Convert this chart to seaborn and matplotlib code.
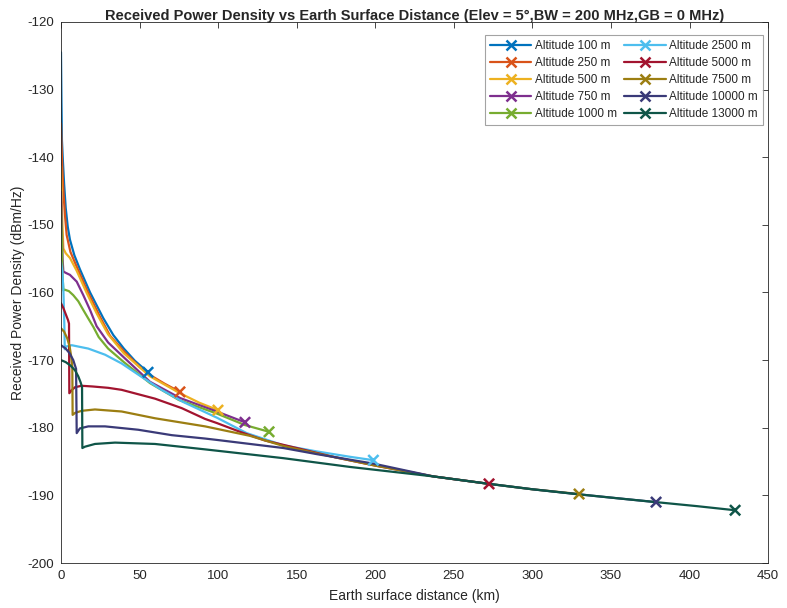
import pandas as pd
import seaborn as sns
import matplotlib.pyplot as plt
from matplotlib.lines import Line2D

# altitudes and line colours (MATLAB-like)
altitudes = [100, 250, 500, 750, 1000, 2500, 5000, 7500, 10000, 13000]
colors = ["#0072BD", "#D95319", "#EDB120", "#7E2F8E", "#77AC30",
          "#4DBEEE", "#A2142F", "#9C7E12", "#3A3A78", "#0F5548"]

# earth surface distance (km) / received power density (dBm/Hz)
x_100 = [0, 0.3, 0.6, 1.2, 2, 3, 4.3, 5.7, 8.5, 12.1, 18.5, 26.9, 33.3, 40, 47, 55.4]
y_100 = [-124.5, -132, -137.5, -140.5, -144, -147.5, -150.3, -152.2, -154.5, -156.6,
         -160, -163.8, -166.3, -168.3, -170.1, -171.8]

x_250 = [0, 0.3, 0.8, 1.5, 2.5, 3.6, 6, 10, 16.4, 24.8, 31.2, 40, 50, 56.6, 66, 75.7]
y_250 = [-135, -138, -141.5, -145, -148.5, -151.5, -154, -156.2, -159.6, -163.6,
         -166.4, -168.7, -171.0, -172.2, -173.5, -174.7]

x_500 = [0, 0.4, 0.9, 1.5, 3, 5.7, 10, 16.4, 22.7, 30, 40, 56.6, 75.7, 88, 99.9]
y_500 = [-141.4, -145, -150, -153.5, -154.2, -154.9, -156.8, -160.1, -163.1, -166.2,
         -169.0, -172.4, -174.9, -176.3, -177.4]

x_750 = [0, 0.5, 1.0, 1.5, 3, 5.7, 10, 14.2, 18.5, 22.7, 30, 40, 56.6, 75.7, 99.1, 117.1]
y_750 = [-145.1, -150, -155, -156.9, -157.1, -157.4, -158.4, -160.4, -162.6, -165.0,
         -167.4, -169.6, -173.2, -175.6, -177.6, -179.2]

x_1000 = [0, 0.5, 1.0, 1.5, 2.5, 5, 7.8, 11, 14.2, 17.5, 20.6, 24, 30, 40, 56.6, 75,
          99.1, 117, 132.4]
y_1000 = [-147.5, -152, -157.5, -159.7, -159.6, -159.8, -160.4, -161.3, -162.6, -163.9,
          -165.1, -166.6, -168.3, -170.3, -173.4, -175.9, -177.9, -179.6, -180.6]

x_2500 = [0, 0.8, 1.5, 2.1, 2.4, 3.2, 6.8, 17.4, 28, 38.6, 51.4, 64, 77.8, 99.1, 118.2,
          141.5, 162.7, 184, 198.8]
y_2500 = [-155.5, -156.8, -159.5, -164.5, -168.4, -168.0, -167.8, -168.3, -169.2, -170.5,
          -172.5, -174.4, -176.2, -178.5, -180.8, -182.6, -183.5, -184.3, -184.8]

x_5000 = [0, 1.5, 3, 4.5, 5.1, 5.3, 7, 9, 13.2, 20, 30, 38.6, 50, 59.8, 76.8, 91.7, 99.1,
          113.9, 130, 150, 175, 200, 237, 272.4]
y_5000 = [-161.6, -162.3, -163.2, -164.1, -164.6, -174.9, -174.4, -174.0, -173.8, -173.9,
          -174.1, -174.4, -175.1, -175.7, -177.1, -178.7, -179.3, -180.6, -181.9, -183.0,
          -184.4, -185.6, -187.2, -188.3]

x_7500 = [0, 2, 4, 5.5, 6.5, 7.2, 7.4, 9, 13.2, 21.6, 38.6, 59.8, 91.7, 120.3, 141.5,
          162.7, 200, 237, 272.4, 300, 329.7]
y_7500 = [-165.3, -165.8, -166.8, -168.0, -169.5, -171.0, -178.1, -177.8, -177.5, -177.3,
          -177.6, -178.6, -179.8, -181.2, -182.7, -183.8, -185.6, -187.2, -188.3, -189.1,
          -189.8]

x_10000 = [0, 3, 5.5, 7.8, 9.6, 10.0, 12, 17.4, 28, 49.2, 70.5, 91.7, 99.1, 141.5, 162.7,
           198.8, 237, 272.4, 300, 329.7, 355, 378.7]
y_10000 = [-167.8, -168.3, -169.0, -170.0, -171.3, -180.8, -180.1, -179.8, -179.8, -180.3,
           -181.1, -181.6, -181.8, -183.0, -183.9, -185.3, -187.2, -188.3, -189.1, -189.85,
           -190.45, -191.0]

x_13000 = [0, 3, 6, 8.9, 11, 12.5, 13.4, 13.6, 15.3, 21.6, 34.4, 59.8, 91.7, 141.5, 184,
           237, 272.4, 300, 329.7, 355, 378.7, 405, 429]
y_13000 = [-170.0, -170.3, -170.8, -171.5, -172.4, -173.3, -174.0, -183.0, -182.8, -182.4,
           -182.2, -182.4, -183.2, -184.5, -185.8, -187.2, -188.3, -189.1, -189.85, -190.45,
           -191.0, -191.6, -192.2]

xs = [x_100, x_250, x_500, x_750, x_1000, x_2500, x_5000, x_7500, x_10000, x_13000]
ys = [y_100, y_250, y_500, y_750, y_1000, y_2500, y_5000, y_7500, y_10000, y_13000]

frames = []
for alt, xv, yv in zip(altitudes, xs, ys):
    frames.append(pd.DataFrame({"dist": xv, "pd": yv, "alt": f"Altitude {alt} m"}))
df = pd.concat(frames, ignore_index=True)
ends = df.groupby("alt", sort=False).tail(1)

labels = [f"Altitude {a} m" for a in altitudes]
palette = dict(zip(labels, colors))

sns.set_style("white")
plt.rcParams["font.family"] = ["Liberation Sans", "DejaVu Sans"]
plt.rcParams["axes.unicode_minus"] = False

fig = plt.figure(figsize=(7.87, 6.08), dpi=100)
ax = fig.add_axes([0.0775, 0.074, 0.8985, 0.89])

sns.lineplot(data=df, x="dist", y="pd", hue="alt", palette=palette, sort=False,
             estimator=None, units="alt", linewidth=1.6, legend=False, ax=ax)
sns.scatterplot(data=ends, x="dist", y="pd", hue="alt", palette=palette, marker="x",
                s=55, linewidth=1.8, legend=False, ax=ax, zorder=5)

ax.set_xlim(0, 450)
ax.set_ylim(-200, -120)
ax.set_xticks(range(0, 451, 50))
ax.set_yticks(range(-200, -119, 10))
ax.tick_params(direction="in", length=4, width=0.6, colors="#262626", labelsize=9.5,
               top=True, right=True, pad=5)
for sp in ax.spines.values():
    sp.set_color("#262626")
    sp.set_linewidth(0.6)

ax.set_xlabel("Earth surface distance (km)", fontsize=10, color="#262626", labelpad=5)
ax.set_ylabel("Received Power Density (dBm/Hz)", fontsize=10, color="#262626", labelpad=2)
ax.set_title("Received Power Density vs Earth Surface Distance (Elev = 5°,BW = 200 MHz,GB = 0 MHz)",
             fontsize=10.5, fontweight="bold", pad=1)

handles = [Line2D([0], [0], color=c, lw=1.6, marker="x", markersize=7, markeredgewidth=1.8)
           for c in colors]
leg = ax.legend(handles, labels, ncol=2, loc="upper right", bbox_to_anchor=(0.993, 0.976),
                fontsize=8.5, frameon=True, fancybox=False, edgecolor="#8c8c8c",
                handlelength=3.5, columnspacing=0.6, handletextpad=0.3, labelspacing=0.42,
                borderaxespad=0, borderpad=0.45)
leg.get_frame().set_linewidth(0.8)

plt.savefig("out.png", dpi=100)
